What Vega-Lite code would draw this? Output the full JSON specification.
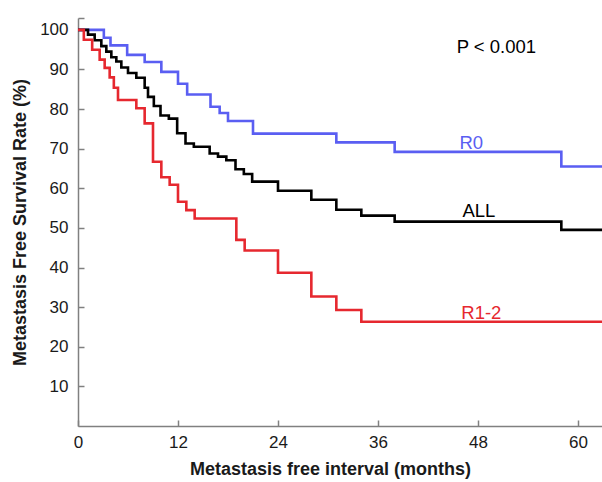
{
  "$schema": "https://vega.github.io/schema/vega-lite/v6.json",
  "width": 524,
  "height": 408,
  "autosize": "none",
  "padding": {"left": 78, "top": 18, "right": 0, "bottom": 56},
  "config": {"view": {"stroke": null}, "font": "Liberation Sans"},
  "datasets": {
    "curves": [
      {"group": "R0", "month": 0, "rate": 100},
      {"group": "R0", "month": 3.1, "rate": 98.0},
      {"group": "R0", "month": 3.9, "rate": 96.1},
      {"group": "R0", "month": 5.9, "rate": 93.7},
      {"group": "R0", "month": 8.0, "rate": 91.9},
      {"group": "R0", "month": 10.0, "rate": 89.4},
      {"group": "R0", "month": 12.0, "rate": 86.4},
      {"group": "R0", "month": 13.1, "rate": 83.7},
      {"group": "R0", "month": 15.9, "rate": 80.6},
      {"group": "R0", "month": 17.0, "rate": 79.0},
      {"group": "R0", "month": 18.0, "rate": 77.0},
      {"group": "R0", "month": 21.0, "rate": 73.8},
      {"group": "R0", "month": 31.0, "rate": 71.6},
      {"group": "R0", "month": 38.0, "rate": 69.2},
      {"group": "R0", "month": 58.0, "rate": 65.5},
      {"group": "R0", "month": 62.88, "rate": 65.5},
      {"group": "ALL", "month": 0, "rate": 100},
      {"group": "ALL", "month": 1.2, "rate": 98.8},
      {"group": "ALL", "month": 2.0, "rate": 97.4},
      {"group": "ALL", "month": 2.8, "rate": 95.9},
      {"group": "ALL", "month": 3.4, "rate": 94.5},
      {"group": "ALL", "month": 4.0, "rate": 93.1},
      {"group": "ALL", "month": 4.6, "rate": 92.0},
      {"group": "ALL", "month": 5.2, "rate": 90.5},
      {"group": "ALL", "month": 6.0, "rate": 89.1},
      {"group": "ALL", "month": 7.0, "rate": 87.9},
      {"group": "ALL", "month": 8.0, "rate": 85.4},
      {"group": "ALL", "month": 8.4, "rate": 83.1},
      {"group": "ALL", "month": 9.1, "rate": 80.8},
      {"group": "ALL", "month": 9.9, "rate": 78.4},
      {"group": "ALL", "month": 10.9, "rate": 77.6},
      {"group": "ALL", "month": 11.9, "rate": 73.9},
      {"group": "ALL", "month": 12.9, "rate": 71.3},
      {"group": "ALL", "month": 13.9, "rate": 70.5},
      {"group": "ALL", "month": 15.8, "rate": 68.8},
      {"group": "ALL", "month": 16.8, "rate": 68.0},
      {"group": "ALL", "month": 17.8, "rate": 67.1},
      {"group": "ALL", "month": 18.9, "rate": 64.8},
      {"group": "ALL", "month": 19.9, "rate": 63.6},
      {"group": "ALL", "month": 20.9, "rate": 61.7},
      {"group": "ALL", "month": 24.0, "rate": 59.4},
      {"group": "ALL", "month": 28.0, "rate": 57.1},
      {"group": "ALL", "month": 31.0, "rate": 54.6},
      {"group": "ALL", "month": 34.0, "rate": 53.1},
      {"group": "ALL", "month": 38.0, "rate": 51.6},
      {"group": "ALL", "month": 58.0, "rate": 49.5},
      {"group": "ALL", "month": 62.88, "rate": 49.5},
      {"group": "R1-2", "month": 0, "rate": 100},
      {"group": "R1-2", "month": 0.7, "rate": 97.5},
      {"group": "R1-2", "month": 1.7, "rate": 95.0},
      {"group": "R1-2", "month": 2.6, "rate": 92.5},
      {"group": "R1-2", "month": 3.2, "rate": 90.4},
      {"group": "R1-2", "month": 3.8, "rate": 88.0},
      {"group": "R1-2", "month": 4.3, "rate": 85.4},
      {"group": "R1-2", "month": 4.8, "rate": 82.3},
      {"group": "R1-2", "month": 7.0, "rate": 80.2},
      {"group": "R1-2", "month": 8.0, "rate": 76.4},
      {"group": "R1-2", "month": 9.0, "rate": 66.7},
      {"group": "R1-2", "month": 10.0, "rate": 62.8},
      {"group": "R1-2", "month": 11.0, "rate": 60.9},
      {"group": "R1-2", "month": 12.0, "rate": 56.6},
      {"group": "R1-2", "month": 13.0, "rate": 54.5},
      {"group": "R1-2", "month": 14.0, "rate": 52.4},
      {"group": "R1-2", "month": 19.0, "rate": 47.0},
      {"group": "R1-2", "month": 20.0, "rate": 44.3},
      {"group": "R1-2", "month": 24.0, "rate": 38.7},
      {"group": "R1-2", "month": 28.0, "rate": 32.7},
      {"group": "R1-2", "month": 31.0, "rate": 29.3},
      {"group": "R1-2", "month": 34.0, "rate": 26.3},
      {"group": "R1-2", "month": 62.88, "rate": 26.3}
    ],
    "one": [{}]
  },
  "layer": [
    {
      "data": {"name": "curves"},
      "mark": {"type": "line", "interpolate": "step-after", "strokeWidth": 2.6, "clip": true},
      "encoding": {
        "x": {
          "field": "month",
          "type": "quantitative",
          "scale": {"domain": [0, 62.88], "nice": false, "zero": false},
          "axis": {
            "values": [0, 12, 24, 36, 48, 60],
            "title": "Metastasis free interval (months)",
            "grid": false,
            "tickSize": -6,
            "tickColor": "#808080",
            "tickWidth": 1.5,
            "domainColor": "#808080",
            "domainWidth": 1.5,
            "labelPadding": 14,
            "labelFontSize": 17,
            "labelColor": "#1a1a1a",
            "labelFlush": false,
            "titleFontSize": 18,
            "titleFontWeight": "bold",
            "titleColor": "#1a1a1a",
            "titlePadding": 10,
            "titleX": 252
          }
        },
        "y": {
          "field": "rate",
          "type": "quantitative",
          "scale": {"domain": [0, 103], "nice": false, "zero": true},
          "axis": {
            "values": [10, 20, 30, 40, 50, 60, 70, 80, 90, 100, 103],
            "labelExpr": "datum.value > 100 ? '' : datum.label",
            "title": "Metastasis Free Survival Rate (%)",
            "grid": false,
            "tickSize": -6,
            "tickColor": "#808080",
            "tickWidth": 1.5,
            "domainColor": "#808080",
            "domainWidth": 1.5,
            "labelPadding": 16,
            "labelFontSize": 17,
            "labelColor": "#1a1a1a",
            "labelFlush": false,
            "titleFontSize": 18,
            "titleFontWeight": "bold",
            "titleColor": "#1a1a1a",
            "titlePadding": 10
          }
        },
        "color": {
          "field": "group",
          "type": "nominal",
          "scale": {"domain": ["R0", "ALL", "R1-2"], "range": ["#5a5ef2", "#000000", "#e6282f"]},
          "legend": null
        }
      }
    },
    {
      "data": {"name": "one"},
      "mark": {"type": "text", "fontSize": 18.5, "color": "#5a5ef2", "align": "center", "baseline": "middle"},
      "encoding": {"x": {"datum": 47.2}, "y": {"datum": 71.5}, "text": {"value": "R0"}}
    },
    {
      "data": {"name": "one"},
      "mark": {"type": "text", "fontSize": 18.5, "color": "#000000", "align": "center", "baseline": "middle"},
      "encoding": {"x": {"datum": 48.1}, "y": {"datum": 54.3}, "text": {"value": "ALL"}}
    },
    {
      "data": {"name": "one"},
      "mark": {"type": "text", "fontSize": 18.5, "color": "#e6282f", "align": "center", "baseline": "middle"},
      "encoding": {"x": {"datum": 48.4}, "y": {"datum": 28.5}, "text": {"value": "R1-2"}}
    },
    {
      "data": {"name": "one"},
      "mark": {"type": "text", "fontSize": 18.5, "color": "#000000", "align": "center", "baseline": "middle"},
      "encoding": {"x": {"datum": 50.2}, "y": {"datum": 95.6}, "text": {"value": "P < 0.001"}}
    }
  ]
}
